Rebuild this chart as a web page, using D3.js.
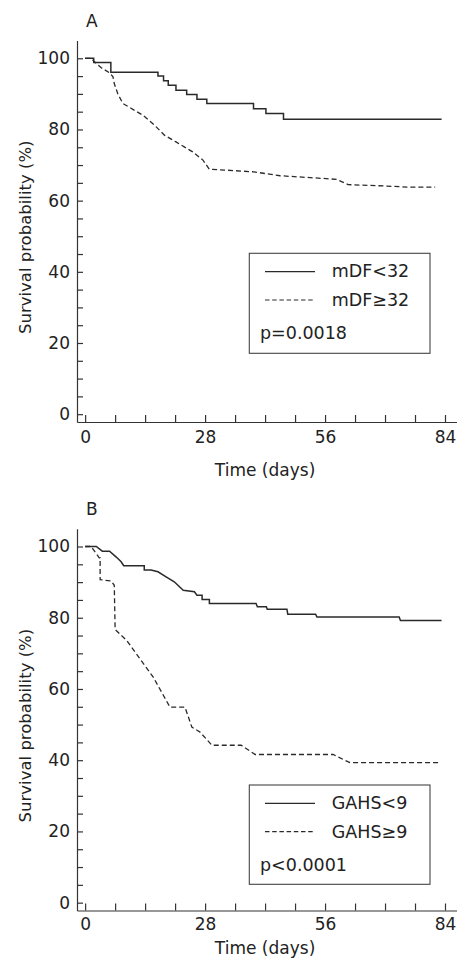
<!DOCTYPE html>
<html>
<head>
<meta charset="utf-8">
<script src="https://cdn.jsdelivr.net/npm/d3@7"></script>
<style>
  body { margin: 0; background: #fff; }
  svg text { font-family: "DejaVu Sans", sans-serif; fill: #222; }
</style>
</head>
<body>
<svg id="chart" width="457" height="960"></svg>
<script>
const width = 457;
const height = 960;

// tick values
const xTicks = [0, 7, 14, 21, 28, 35, 42, 49, 56, 63, 70, 77, 84];
const xLabels = [0, 28, 56, 84];
const yTicks = [0, 5, 10, 15, 20, 25, 30, 35, 40, 45, 50, 55, 60, 65, 70, 75, 80, 85, 90, 95, 100];
const yLabels = [0, 20, 40, 60, 80, 100];

// panel A, mDF<32 (step curve: event day, survival after)
const aLowDays = [0, 2, 6, 17, 18.3, 19.4, 21.2, 23.7, 26.1, 28.4, 39.3, 42.2, 46.3, 83.2];
const aLowSurv = [100, 98.8, 96.1, 95.0, 93.7, 92.4, 91.0, 89.8, 88.5, 87.3, 85.8, 84.5, 82.9, 82.9];

// panel A, mDF>=32 (points as drawn)
const aHighDays = [0, 1.4, 2.2, 3.7, 5.7, 6.5, 6.8, 7.6, 8.8, 13.5, 16.2, 18.5, 21.2, 25.1, 27.5, 29.0, 32.5, 39.3, 45.5, 58.7, 61.4, 70.4, 75.1, 81.7];
const aHighSurv = [100, 100, 99.0, 97.4, 95.9, 94.8, 92.9, 90.1, 87.3, 84.0, 81.2, 78.4, 76.5, 73.7, 71.4, 68.8, 68.6, 68.1, 67.0, 66.0, 64.5, 64.1, 63.8, 63.8];

// panel B, GAHS<9
const bLowDays = [0, 2.6, 4.0, 5.7, 7.2, 8.4, 9.0, 13.8, 13.8, 15.4, 17.0, 18.9, 20.8, 22.9, 25.5, 26.1, 27.3, 27.3, 29.0, 29.0, 39.9, 40.2, 42.3, 42.5, 47.1, 47.3, 53.8, 54.1, 73.3, 73.6, 83.2];
const bLowSurv = [100, 100, 98.7, 98.7, 97.1, 95.7, 94.6, 94.6, 93.4, 93.4, 92.9, 91.5, 90.1, 87.7, 87.3, 86.3, 86.3, 85.1, 85.1, 84.0, 84.0, 83.1, 83.1, 82.4, 82.4, 81.0, 81.0, 80.2, 80.2, 79.2, 79.2];

// panel B, GAHS>=9
const bHighDays = [0, 1.4, 3.3, 3.5, 3.5, 6.1, 6.8, 7.0, 9.7, 15.9, 19.8, 23.3, 24.9, 26.8, 29.6, 36.4, 39.7, 57.9, 61.8, 82.8];
const bHighSurv = [100, 100, 96.8, 96.8, 90.7, 90.3, 89.1, 76.7, 73.6, 63.3, 54.9, 54.9, 49.3, 47.9, 44.2, 44.2, 41.6, 41.6, 39.3, 39.3];

const panels = [
    {
        label: "A", top: 40.5, bottom: 422, labelY: 27, tickLabelY: 443, titleY: 476,
        legendTop: 253.3, legendBottom: 353.3,
        low: { days: aLowDays, surv: aLowSurv, step: true, name: "mDF<32" },
        high: { days: aHighDays, surv: aHighSurv, step: false, name: "mDF\u226532" },
        pText: "p=0.0018"
    },
    {
        label: "B", top: 528.7, bottom: 910.5, labelY: 515, tickLabelY: 930, titleY: 954,
        legendTop: 785, legendBottom: 884.3,
        low: { days: bLowDays, surv: bLowSurv, step: false, name: "GAHS<9" },
        high: { days: bHighDays, surv: bHighSurv, step: false, name: "GAHS\u22659" },
        pText: "p<0.0001"
    }
];

const svg = d3.select("#chart");

function drawPanel(p) {
    const g = svg.append("g");

    const xScale = d3.scaleLinear().domain([-1.9, 86.8]).range([77, 457]);
    const yScale = d3.scaleLinear().domain([-2.2, 105]).range([p.bottom, p.top]);

    // y axis, ticks pointing inward
    const yAxis = g.append("g")
        .attr("transform", `translate(${xScale(-1.9)},0)`)
        .call(d3.axisLeft(yScale)
            .tickValues(yTicks)
            .tickSizeInner(-6)
            .tickSizeOuter(0)
            .tickPadding(7)
            .tickFormat(d => yLabels.includes(d) ? d : ""));

    // x axis
    const xAxis = g.append("g")
        .attr("transform", `translate(0,${yScale(-2.2)})`)
        .call(d3.axisBottom(xScale)
            .tickValues(xTicks)
            .tickSizeInner(-7)
            .tickSizeOuter(0)
            .tickPadding(0)
            .tickFormat(d => xLabels.includes(d) ? d : ""));

    [yAxis, xAxis].forEach(a => {
        a.selectAll("path, line").attr("stroke", "#333").attr("stroke-width", 1.2);
        a.selectAll("text").style("font-size", "17px").style("fill", "#222")
            .style("font-family", "DejaVu Sans, sans-serif");
    });
    xAxis.selectAll("text").attr("dy", null).attr("y", p.tickLabelY - yScale(-2.2));

    // panel letter
    g.append("text")
        .attr("x", 86)
        .attr("y", p.labelY)
        .style("font-size", "17px")
        .text(p.label);

    // axis titles
    g.append("text")
        .attr("x", xScale(42))
        .attr("y", p.titleY)
        .style("text-anchor", "middle")
        .style("font-size", "17px")
        .text("Time (days)");

    g.append("text")
        .attr("transform", "rotate(-90)")
        .attr("x", -(p.top + p.bottom) / 2 - 6)
        .attr("y", 31)
        .style("text-anchor", "middle")
        .style("font-size", "16.5px")
        .text("Survival probability (%)");

    // curves
    const makeLine = s => d3.line()
        .x(i => xScale(s.days[i]))
        .y(i => yScale(s.surv[i]))
        .curve(s.step ? d3.curveStepAfter : d3.curveLinear);

    g.append("path")
        .datum(d3.range(p.low.days.length))
        .attr("d", makeLine(p.low))
        .attr("fill", "none")
        .attr("stroke", "#2a2a2a")
        .attr("stroke-width", 1.5);

    g.append("path")
        .datum(d3.range(p.high.days.length))
        .attr("d", makeLine(p.high))
        .attr("fill", "none")
        .attr("stroke", "#2a2a2a")
        .attr("stroke-width", 1.3)
        .attr("stroke-dasharray", "5,3");

    // legend
    const lx = 249.3, lw = 180.7;
    const lt = p.legendTop;
    g.append("rect")
        .attr("x", lx)
        .attr("y", lt)
        .attr("width", lw)
        .attr("height", p.legendBottom - lt)
        .attr("fill", "none")
        .attr("stroke", "#444")
        .attr("stroke-width", 1.1);

    g.append("line")
        .attr("x1", 265).attr("x2", 315)
        .attr("y1", lt + 18.4).attr("y2", lt + 18.4)
        .attr("stroke", "#2a2a2a").attr("stroke-width", 1.3);

    g.append("line")
        .attr("x1", 265).attr("x2", 315)
        .attr("y1", lt + 46.7).attr("y2", lt + 46.7)
        .attr("stroke", "#2a2a2a").attr("stroke-width", 1.2)
        .attr("stroke-dasharray", "4.5,2.7");

    g.append("text")
        .attr("x", 331.7).attr("y", lt + 23.8)
        .style("font-size", "17.5px")
        .text(p.low.name);

    g.append("text")
        .attr("x", 331.7).attr("y", lt + 52.5)
        .style("font-size", "17.5px")
        .text(p.high.name);

    g.append("text")
        .attr("x", 260).attr("y", lt + 86)
        .style("font-size", "17.5px")
        .text(p.pText);
}

panels.forEach(drawPanel);
</script>
</body>
</html>
